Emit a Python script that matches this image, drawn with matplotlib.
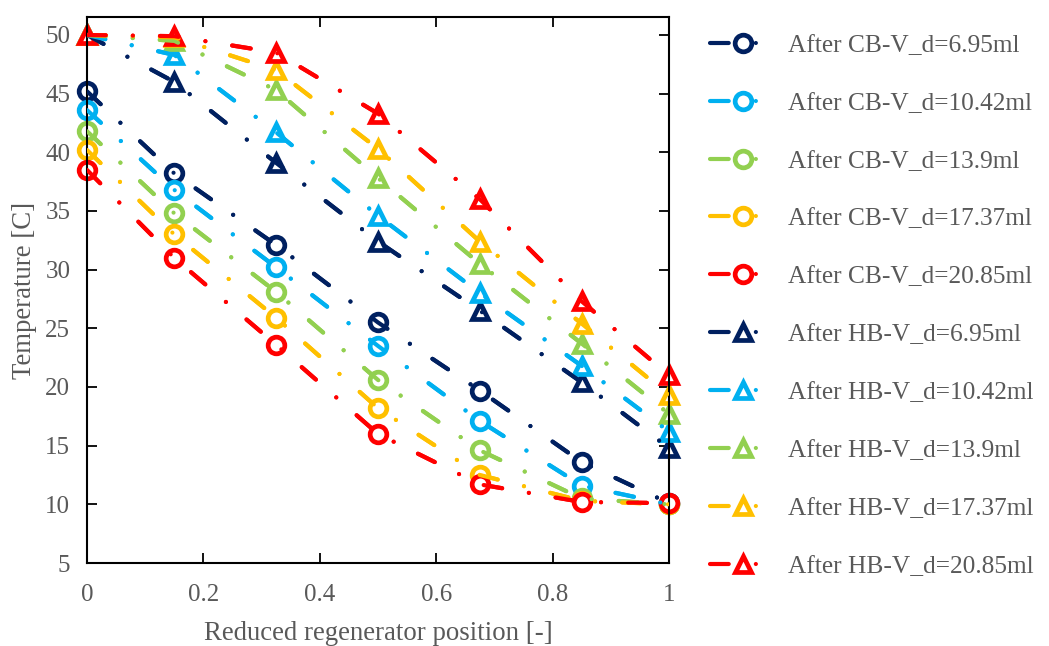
import matplotlib
matplotlib.use("Agg")
import matplotlib.pyplot as plt

plt.rcParams['font.family'] = ['Liberation Serif', 'DejaVu Serif']

position = [0, 0.15, 0.325, 0.5, 0.675, 0.85, 1]

# temperatures after cold blow (circles)
cb_695 = [45.2, 38.2, 32.1, 25.5, 19.7, 13.6, 10.1]
cb_1042 = [43.6, 36.8, 30.2, 23.5, 17.1, 11.6, 10.0]
cb_139 = [41.8, 34.8, 28.1, 20.6, 14.6, 10.5, 10.0]
cb_1737 = [40.2, 33.0, 25.9, 18.2, 12.5, 10.3, 10.0]
cb_2085 = [38.5, 31.0, 23.6, 16.0, 11.7, 10.2, 10.1]

# temperatures after hot blow (triangles)
hb_695 = [50.0, 46.0, 39.1, 32.4, 26.5, 20.4, 14.8]
hb_1042 = [50.0, 48.3, 41.7, 34.6, 28.0, 21.8, 16.2]
hb_139 = [50.0, 49.5, 45.3, 37.8, 30.5, 23.7, 17.7]
hb_1737 = [50.0, 49.8, 47.0, 40.3, 32.4, 25.4, 19.3]
hb_2085 = [50.0, 49.9, 48.5, 43.3, 36.0, 27.3, 21.0]

volumes = ['6.95', '10.42', '13.9', '17.37', '20.85']
colors = ['#002060', '#00B0F0', '#92D050', '#FFC000', '#FF0000']
cb_series = [cb_695, cb_1042, cb_139, cb_1737, cb_2085]
hb_series = [hb_695, hb_1042, hb_139, hb_1737, hb_2085]

grey = '#595959'
ls = (0, (4.5, 6.5, 0.01, 6.5))

fig = plt.figure(figsize=(10.49, 6.46), dpi=100)
ax = fig.add_axes([87 / 1049, 1 - 563 / 646, (669 - 87) / 1049, (563 - 17.4) / 646])

handles = []
for kind, series, mk in [('CB', cb_series, 'o'), ('HB', hb_series, '^')]:
    for vol, ys, c in zip(volumes, series, colors):
        h, = ax.plot(position, ys, color=c, linestyle=ls, linewidth=3.0,
                     dash_capstyle='round', marker=mk, markersize=12,
                     markerfacecolor='white', markeredgecolor=c,
                     markeredgewidth=3.4, zorder=2, clip_on=False,
                     label='After %s-V_d=%sml' % (kind, vol))
        # line drawn again over the markers, like the spreadsheet export
        ax.plot(position, ys, color=c, linestyle=ls, linewidth=3.0,
                dash_capstyle='round', zorder=3)
        handles.append(h)

ax.set_xlim(0, 1)
ax.set_ylim(5, 51.5)
ax.set_xticks([0, 0.2, 0.4, 0.6, 0.8, 1])
ax.set_xticklabels(['0', '0.2', '0.4', '0.6', '0.8', '1'])
ax.set_yticks(range(5, 51, 5))
ax.tick_params(direction='in', top=True, right=True, length=7, width=1.3,
               labelsize=18, labelcolor=grey)
ax.tick_params(axis='x', pad=15)
ax.tick_params(axis='y', pad=12)
for s in ax.spines.values():
    s.set_linewidth(1.5)

ax.set_xlabel('Reduced regenerator position [-]', fontsize=19.3, color=grey, labelpad=11)
ax.set_ylabel('Temperature [C]', fontsize=19.3, color=grey, labelpad=6)

leg = fig.legend(handles=handles, loc='upper left', bbox_to_anchor=(710 / 1049, 1 - 34 / 646),
                 frameon=False, fontsize=18.3, labelspacing=1.38, handlelength=2.6,
                 handletextpad=0.45, borderaxespad=0, borderpad=0)
for t in leg.get_texts():
    t.set_color(grey)

fig.savefig('out.png', dpi=100)
